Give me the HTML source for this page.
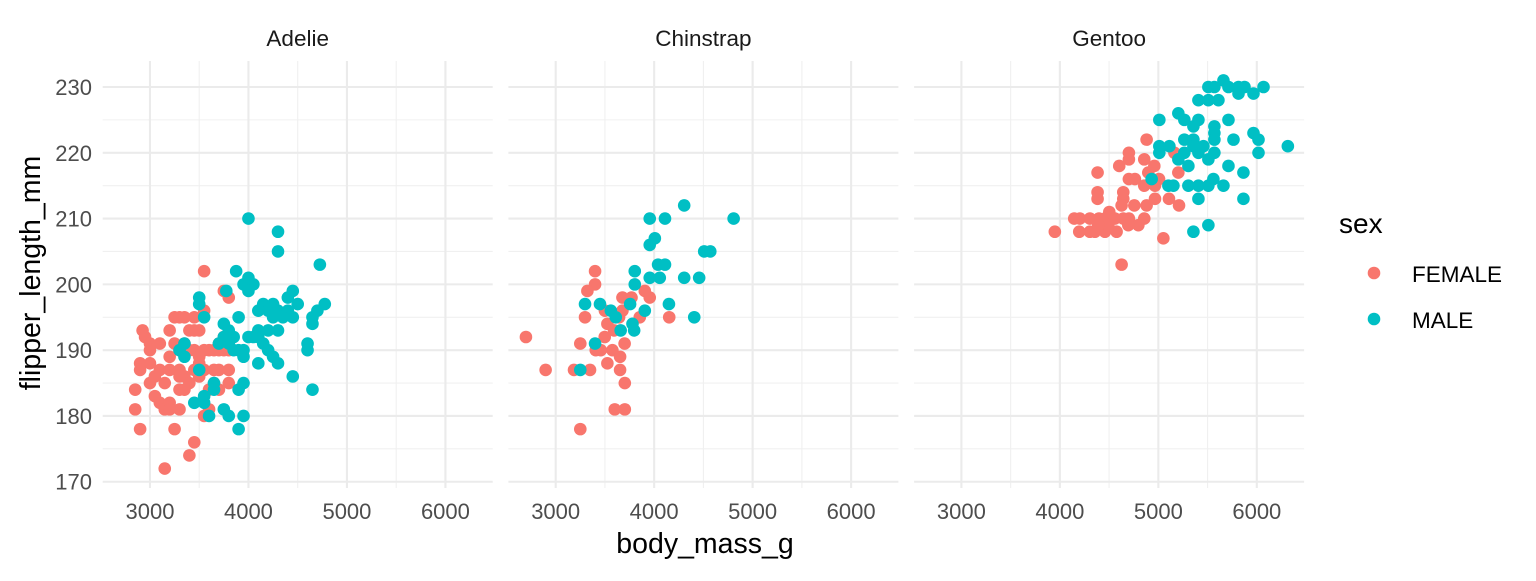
<!DOCTYPE html>
<html><head><meta charset="utf-8"><style>
body{margin:0;background:#fff}
svg text{font-family:"Liberation Sans",sans-serif}
</style></head><body>
<svg id="chart" width="1536" height="576" xmlns="http://www.w3.org/2000/svg"></svg>
<script>
const facets = ["Adelie","Chinstrap","Gentoo"];
const sexes = ["FEMALE","MALE"];
const xTicks = [3000,4000,5000,6000];
const yTicks = [170,180,190,200,210,220,230];
const adelieFemale = [[2850,184],[2850,181],[2900,178],[2900,188],[2900,187],[2925,193],[2950,192],[3000,191],[3000,190],[3000,185],[3050,183],[3050,186],[3100,187],[3100,182],[3150,185],[3150,172],[3150,181],[3200,193],[3200,189],[3200,187],[3200,182],[3250,195],[3250,191],[3250,178],[3300,195],[3300,190],[3300,187],[3300,184],[3300,181],[3350,195],[3350,191],[3350,186],[3400,193],[3400,185],[3400,174],[3450,195],[3450,193],[3450,190],[3450,187],[3450,176],[3500,193],[3500,189],[3500,186],[3550,202],[3550,196],[3550,190],[3550,187],[3550,180],[3600,190],[3600,181],[3650,187],[3650,185],[3700,191],[3700,190],[3700,187],[3750,192],[3750,199],[3800,198],[3800,190],[3800,187],[3800,185],[3750,190],[3650,190],[3400,190],[3300,186],[3350,184],[3500,188],[3200,181],[3100,191],[3000,188],[3600,184],[3700,184]];
const adelieMale = [[4000,210],[4300,208],[4300,205],[4725,203],[3875,202],[4000,201],[3950,200],[4050,200],[4000,199],[3775,199],[4150,197],[4775,197],[4700,196],[3500,198],[3500,197],[4400,198],[4450,199],[4500,197],[4250,197],[4200,196],[4300,196],[4400,196],[4450,195],[4350,195],[4250,195],[4100,196],[3900,195],[3550,195],[4650,195],[4650,194],[3750,194],[4100,193],[4200,193],[3800,193],[4300,193],[3750,192],[3850,192],[4000,192],[4100,192],[4050,192],[3700,191],[3800,191],[4150,191],[4600,191],[4600,190],[3900,190],[3950,189],[3850,190],[4200,190],[4250,189],[4450,186],[4100,188],[4300,188],[4650,184],[3500,187],[3350,189],[3650,185],[3650,184],[3550,183],[3550,182],[3900,184],[3950,185],[3450,182],[3600,180],[3750,181],[3800,180],[3950,180],[3900,178],[3350,191],[3300,190],[3950,190]];
const chinstrapFemale = [[3400,202],[3400,200],[3322,199],[3678,198],[3770,198],[3905,199],[3955,198],[3298,195],[3500,196],[3678,196],[3644,195],[3854,195],[4153,195],[3525,194],[3593,193],[3498,192],[2698,192],[3250,191],[3700,191],[3407,190],[3458,190],[3576,190],[3654,189],[3525,188],[2898,187],[3186,187],[3349,187],[3654,187],[3702,185],[3600,181],[3702,181],[3250,178]];
const chinstrapMale = [[4305,212],[3955,210],[4110,210],[4807,210],[4007,207],[3955,206],[4508,205],[4570,205],[4040,203],[4110,203],[3803,202],[3955,201],[4057,201],[4305,201],[4457,201],[3803,200],[3298,197],[3450,197],[4150,197],[3756,197],[3560,196],[3905,196],[4407,195],[3780,194],[3797,193],[3660,193],[3400,191],[3250,187],[3610,195]];
const gentooFemale = [[4881,222],[5163,220],[4701,220],[4701,219],[4857,219],[4603,218],[4959,218],[4383,217],[4898,217],[5203,217],[4701,216],[4762,216],[5007,216],[4857,215],[4966,215],[4383,214],[4383,213],[4644,214],[4644,213],[4756,212],[4881,212],[4966,213],[5108,213],[5210,212],[4627,212],[4502,211],[4146,210],[4203,210],[4305,210],[4397,210],[4458,210],[4559,210],[4644,210],[4701,210],[4857,210],[4797,209],[4695,209],[4197,208],[4305,208],[4356,208],[4458,208],[4576,208],[3949,208],[5051,207],[4627,203],[4492,209],[4390,209]];
const gentooMale = [[5661,231],[5508,230],[5569,230],[5712,230],[5814,230],[5875,230],[6068,230],[5814,229],[5966,229],[5407,228],[5508,228],[5610,228],[5203,226],[5264,225],[5407,225],[5712,225],[5010,225],[5356,224],[5569,224],[5569,223],[5966,223],[6017,222],[5264,222],[5356,222],[5763,222],[5569,222],[6315,221],[5010,221],[5112,221],[5356,221],[5458,221],[5010,220],[5264,220],[5407,220],[5569,220],[6017,220],[5508,219],[5305,218],[5712,218],[5864,217],[5203,219],[4932,216],[5102,215],[5153,215],[5305,215],[5407,215],[5508,215],[5559,216],[5661,215],[5407,213],[5864,213],[5356,208],[5508,209]];

const NS="http://www.w3.org/2000/svg";
const svg=document.getElementById('chart');
const colors={FEMALE:"#F8766D",MALE:"#00BFC4"};
const panelLeft=[102.7,508.4,914.1], panelW=390, xMin=2520, xMax=6480;
const plotTop=61, plotBottom=488, yMin=169.05, yMax=233.95;
function sx(p,v){return panelLeft[p]+(v-xMin)/(xMax-xMin)*panelW;}
function sy(v){return plotBottom-(v-yMin)/(yMax-yMin)*(plotBottom-plotTop);}
function mk(tag,attrs,parent){const e=document.createElementNS(NS,tag);for(const k in attrs)e.setAttribute(k,attrs[k]);(parent||svg).appendChild(e);return e;}
const series=[[adelieFemale,adelieMale],[chinstrapFemale,chinstrapMale],[gentooFemale,gentooMale]];
facets.forEach((f,p)=>{
  const g=mk('g',{});
  
  
  const L=panelLeft[p],R=L+panelW;
  for(let v=175;v<=225;v+=10){const l=mk('line',{x1:L,x2:R,y1:sy(v),y2:sy(v),stroke:'#f0f0f0','stroke-width':1.1},g);
    
    }
  for(let v=2500;v<=6500;v+=1000){const x=sx(p,v);if(x<L||x>R)continue;const l=mk('line',{x1:x,x2:x,y1:plotTop,y2:plotBottom,stroke:'#f0f0f0','stroke-width':1.1},g);
    
    }
  yTicks.forEach(v=>{const l=mk('line',{x1:L,x2:R,y1:sy(v),y2:sy(v),stroke:'#ebebeb','stroke-width':2.1},g);
    
    });
  xTicks.forEach(v=>{const l=mk('line',{x1:sx(p,v),x2:sx(p,v),y1:plotTop,y2:plotBottom,stroke:'#ebebeb','stroke-width':2.1},g);
    
    
    const t=mk('text',{x:sx(p,v),y:519,'text-anchor':'middle','font-size':22,fill:'#4d4d4d'},g);t.textContent=v;
    
    });
  const st=mk('text',{x:L+panelW/2,y:46,'text-anchor':'middle','font-size':22.5,fill:'#1a1a1a'},g);st.textContent=f;
  
  
  series[p].forEach((arr,si)=>{arr.forEach(d=>{const c=mk('circle',{cx:sx(p,d[0]),cy:sy(d[1]),r:6.3,fill:colors[sexes[si]]},g);
    
    });});
});
yTicks.forEach(v=>{const t=mk('text',{x:92,y:sy(v)+8,'text-anchor':'end','font-size':22,fill:'#4d4d4d'});t.textContent=v;
  
  });
const xt=mk('text',{x:705,y:553,'text-anchor':'middle','font-size':28.5,fill:'#000'});xt.textContent='body_mass_g';


const yt=mk('text',{x:0,y:0,'text-anchor':'middle','font-size':28.5,fill:'#000',transform:'translate(40,273) rotate(-90)'});yt.textContent='flipper_length_mm';


const lg=mk('g',{});


const lt=mk('text',{x:1339,y:233,'font-size':28,fill:'#000'},lg);lt.textContent='sex';


sexes.forEach((s,i)=>{const y=273+i*46;
  const c=mk('circle',{cx:1374,cy:y,r:6.3,fill:colors[s]},lg);
  
  
  const t=mk('text',{x:1412,y:y+9,'font-size':22.5,fill:'#000'},lg);t.textContent=s;
  
  });
</script>
</body></html>
